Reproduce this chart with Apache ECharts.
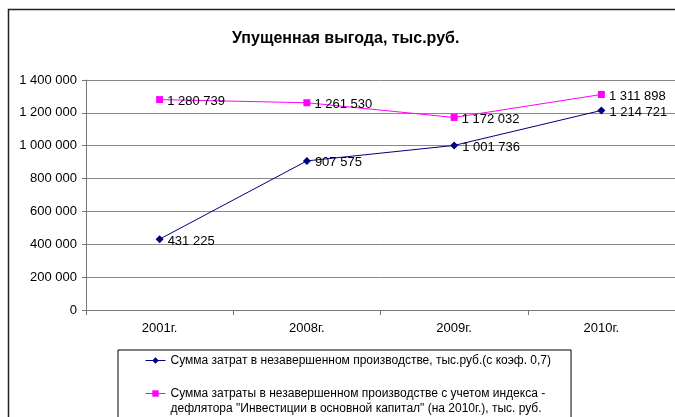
<!DOCTYPE html>
<html>
<head>
<meta charset="utf-8">
<style>
  html, body { margin: 0; padding: 0; background: #fff; }
  #chart { width: 675px; height: 417px; }
</style>
<script src="https://cdn.jsdelivr.net/npm/echarts@6/dist/echarts.min.js"></script>
</head>
<body>
<div id="chart"></div>
<script>
const years = ['2001г.', '2008г.', '2009г.', '2010г.'];
const costs = [431225, 907575, 1001736, 1214721];
const costsDeflated = [1280739, 1261530, 1172032, 1311898];
const costsName = 'Сумма затрат в незавершенном производстве, тыс.руб.(с коэф. 0,7)';
const deflatedName = 'Сумма затраты в незавершенном производстве с учетом индекса -\nдефлятора "Инвестиции в основной капитал" (на 2010г.), тыс. руб.';

const fmt = v => String(v).replace(/\B(?=(\d{3})+(?!\d))/g, ' ');
const font = '"Liberation Sans", Arial, sans-serif';

const chart = echarts.init(document.getElementById('chart'));

const labelStyle = {
  show: true,
  position: 'right',
  distance: 4,
  offset: [0, 2],
  color: '#000',
  fontFamily: font,
  fontSize: 13,
  formatter: p => fmt(p.value)
};

chart.setOption({
  animation: false,
  backgroundColor: '#fff',
  title: {
    text: 'Упущенная выгода, тыс.руб.',
    left: 227,
    top: 26,
    textStyle: { fontFamily: font, fontSize: 16, fontWeight: 'bold', color: '#000' }
  },
  graphic: [{
    type: 'rect',
    shape: { x: 8.5, y: 9.5, width: 700, height: 500 },
    style: { fill: 'none', stroke: '#222', lineWidth: 1.5 },
    silent: true
  }],
  grid: { left: 86, top: 80, right: 0, bottom: 107 },
  legend: {
    orient: 'vertical',
    left: 118,
    top: 350,
    height: 140,
    padding: [3, 20, 12, 27],
    itemGap: 3,
    itemWidth: 20,
    itemHeight: 8,
    borderColor: '#000',
    borderWidth: 1,
    lineStyle: { width: 1 },
    textStyle: { fontFamily: font, fontSize: 12, color: '#000', lineHeight: 15 },
    // blank first line keeps the icon level with the first line of the two-line entry
    formatter: name => (name === deflatedName ? ' \n' + name : name),
    data: [costsName, deflatedName]
  },
  xAxis: {
    type: 'category',
    data: years,
    boundaryGap: true,
    axisLine: { lineStyle: { color: '#777', width: 1 } },
    axisTick: { show: true, length: 5, lineStyle: { color: '#777' } },
    axisLabel: { color: '#000', fontFamily: font, fontSize: 13, margin: 12 }
  },
  yAxis: {
    type: 'value',
    min: 0,
    max: 1400000,
    interval: 200000,
    axisLine: { show: true, lineStyle: { color: '#777' } },
    axisTick: { show: true, length: 4, lineStyle: { color: '#777' } },
    axisLabel: { color: '#000', fontFamily: font, fontSize: 13, margin: 9, formatter: fmt },
    splitLine: { lineStyle: { color: '#888', width: 1 } }
  },
  series: [
    {
      name: costsName,
      type: 'line',
      data: costs,
      symbol: 'diamond',
      symbolSize: 8,
      itemStyle: { color: '#000080' },
      lineStyle: { color: '#000080', width: 1 },
      label: labelStyle
    },
    {
      name: deflatedName,
      type: 'line',
      data: costsDeflated,
      symbol: 'rect',
      symbolSize: 7,
      itemStyle: { color: '#ff00ff' },
      lineStyle: { color: '#ff00ff', width: 1 },
      label: labelStyle
    }
  ]
});
</script>
</body>
</html>
